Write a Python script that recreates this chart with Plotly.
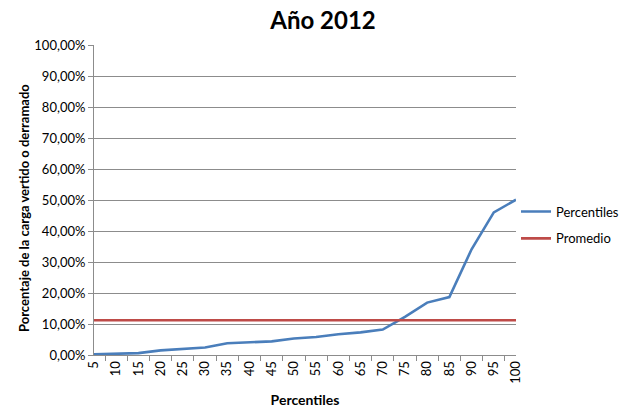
import plotly.graph_objects as go

# Percentile categories and the share of load spilled at each one
percentiles = ["5", "10", "15", "20", "25", "30", "35", "40", "45", "50",
               "55", "60", "65", "70", "75", "80", "85", "90", "95", "100"]
percentile_values = [0.002, 0.004, 0.006, 0.015, 0.019, 0.024, 0.038, 0.040,
                     0.044, 0.053, 0.058, 0.067, 0.073, 0.082, 0.123, 0.169,
                     0.187, 0.341, 0.460, 0.501]
average_value = 0.112
average_values = [average_value] * len(percentiles)

BLUE = "#4A7EBB"
RED = "#BE4B48"
GRID = "#8C8C8C"
FONT = "Lato, 'Open Sans', sans-serif"

W, H = 622, 411
M = dict(l=94, r=106, t=45, b=56)
plot_h = H - M["t"] - M["b"]

fig = go.Figure()
fig.add_trace(go.Scatter(
    x=percentiles, y=percentile_values, mode="lines", name="Percentiles",
    legendgroup="p", line=dict(color=BLUE, width=2.6)))
fig.add_trace(go.Scatter(
    x=percentiles, y=average_values, mode="lines", name="Promedio",
    legendgroup="m", line=dict(color=RED, width=2.6)))

fig.update_layout(
    width=W, height=H,
    margin=dict(**M, autoexpand=False),
    paper_bgcolor="white", plot_bgcolor="white",
    separators=",.",
    font=dict(family=FONT, color="#000000", size=13),
    title=dict(text="<b>Año 2012</b>", x=323 / W, xanchor="center",
               yref="container", y=1 - 21 / H, yanchor="middle",
               font=dict(size=24, family=FONT)),
    legend=dict(x=1.0, xanchor="left",
                y=(H - M["b"] - 225) / plot_h, yanchor="middle",
                font=dict(size=13), traceorder="grouped", tracegroupgap=7,
                itemwidth=30, bgcolor="rgba(0,0,0,0)"),
    showlegend=True,
    annotations=[dict(
        text="<b>Porcentaje de la carga vertido o derramado</b>",
        xref="paper", yref="paper",
        x=-(M["l"] - 24) / (W - M["l"] - M["r"]),
        y=(H - M["b"] - 208) / plot_h,
        textangle=-90, showarrow=False, xanchor="center", yanchor="middle",
        font=dict(size=13, family=FONT))],
)

fig.update_xaxes(
    type="category", tickson="boundaries", ticks="outside", ticklen=5,
    tickcolor=GRID, showline=True, linecolor=GRID, linewidth=1,
    showgrid=False, tickangle=-90, tickfont=dict(size=13),
    title=dict(text="<b>Percentiles</b>", font=dict(size=14), standoff=12),
)
fig.update_yaxes(
    range=[0, 1], dtick=0.1, tickformat=".2%", ticks="outside", ticklen=5,
    tickcolor=GRID, showline=True, linecolor=GRID, linewidth=1,
    showgrid=True, gridcolor=GRID, gridwidth=1, zeroline=False,
    tickfont=dict(size=13),
)

fig.write_html("out.html")
